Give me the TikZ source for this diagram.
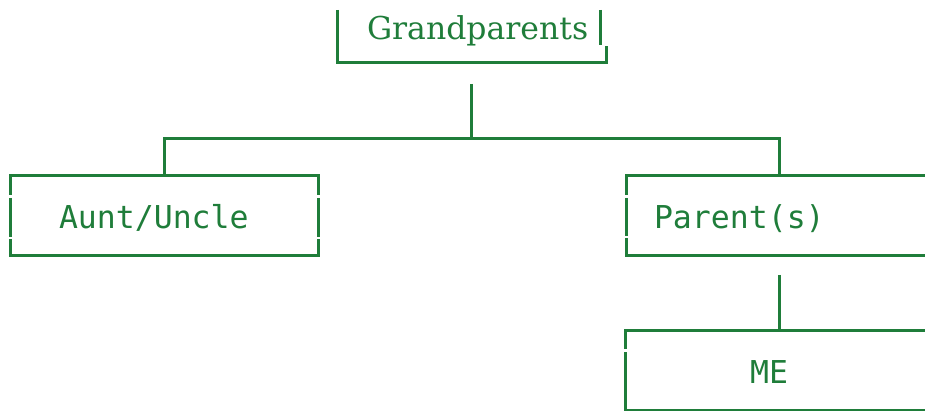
\documentclass[tikz,border=0pt]{standalone}
\usepackage{fontspec}
\newfontfamily\gpserif{DejaVu Serif}
\newfontfamily\treemono{DejaVu Sans Mono}
\definecolor{tree}{HTML}{1F7D3A}
\begin{document}
\begin{tikzpicture}[x=1pt,y=-1pt,
  every node/.style={inner sep=0pt, outer sep=0pt},
  boxline/.style={draw=tree, line width=3pt, line cap=butt, line join=miter},
  conn/.style={draw=tree, line width=3pt, line cap=butt, line join=miter},
  serlbl/.style={text=tree, font=\gpserif\fontsize{31.5}{31.5}\selectfont},
  monolbl/.style={text=tree, font=\treemono\fontsize{31.5}{31.5}\selectfont}]
\useasboundingbox (0,0) rectangle (925,411);

% labels
\node[serlbl, anchor=base west] (gp) at (367,40) {Grandparents};
\node[monolbl, anchor=base west] (aunt) at (59,229) {Aunt/Uncle};
\node[monolbl, anchor=base west] (parent) at (654,229) {Parent(s)};
\node[monolbl, anchor=base] (me) at (769,383) {ME};

% Grandparents box (open top)
\path[boxline] (337,10) -- (337,63) -- (606,63) -- (606,46);
\path[boxline] (600,10) -- (600,45);

% Aunt/Uncle box
\path[boxline] (10,195) -- (10,176) -- (318,176) -- (318,195);
\path[boxline] (10,198) -- (10,237);
\path[boxline] (318,198) -- (318,237);
\path[boxline] (10,239) -- (10,256) -- (318,256) -- (318,239);

% Parent(s) box (open right)
\path[boxline] (626,195) -- (626,176) -- (925,176);
\path[boxline] (626,198) -- (626,236);
\path[boxline] (626,238) -- (626,256) -- (925,256);

% ME box (open right)
\path[boxline] (625,349) -- (625,330) -- (925,330);
\path[boxline] (625,352) -- (625,410) -- (925,410);

% connector anchors
\coordinate (gpstem) at (471,84);
\coordinate (barmid) at (471,139);
\coordinate (barL) at (164,139);
\coordinate (barR) at (779,139);
\coordinate (auntin) at (164,176);
\coordinate (parentin) at (779,176);
\coordinate (parentout) at (779,275);
\coordinate (mein) at (779,330);

% connectors
\path[conn] (gpstem) -- (barmid);
\path[conn] (auntin) -- (barL) -- (barR) -- (parentin);
\path[conn] (parentout) -- (mein);
\end{tikzpicture}
\end{document}
